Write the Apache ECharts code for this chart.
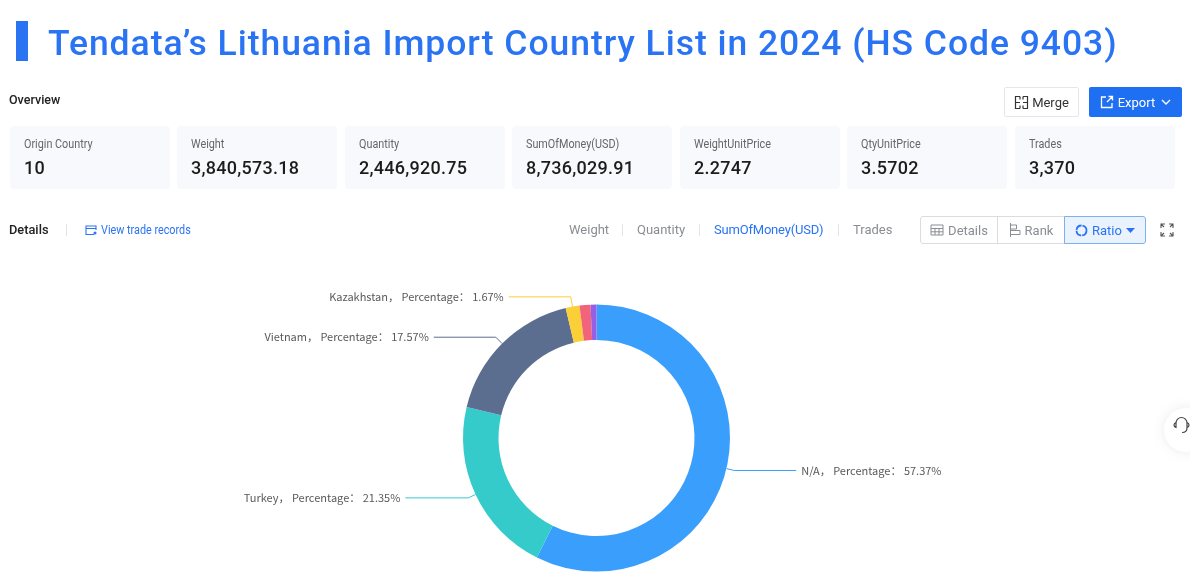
<!DOCTYPE html>
<html>
<head>
<meta charset="utf-8">
<title>Tendata's Lithuania Import Country List in 2024</title>
<script src="https://cdn.jsdelivr.net/npm/echarts@6/dist/echarts.min.js"></script>
<style>
  html, body { margin: 0; padding: 0; background: #fff; width: 1190px; height: 580px; overflow: hidden; }
  body { position: relative; font-family: Roboto, sans-serif; color: #222; }
  #chart { position: absolute; left: 0; top: 0; width: 1190px; height: 580px; }
  .abs { position: absolute; white-space: nowrap; }
  .bar { left: 16px; top: 21px; width: 12px; height: 40px; background: #2a74f4; }
  .title { left: 48px; top: 21px; font: 500 35.5px/44px Roboto, sans-serif; letter-spacing: .95px; color: #2a74f4; }
  .head { font-size: 12.5px; line-height: 16px; font-weight: 500; color: #222; }
  .card { top: 126px; height: 63px; background: #f8f9fc; border-radius: 4px; }
  .card .k { position: absolute; left: 14px; top: 10px; font-size: 12px; line-height: 16px; color: #666; transform: scaleX(.9); transform-origin: left center; }
  .card .v { position: absolute; left: 14px; top: 30px; font-size: 18px; line-height: 24px; font-weight: 500; letter-spacing: .25px; color: #1c1c1c; }
  .btn { box-sizing: border-box; display: flex; align-items: center; justify-content: center; font-size: 13px; border-radius: 2px; }
  .merge { left: 1004px; top: 87px; width: 75px; height: 30px; border: 1px solid #e4e6ea; color: #333; }
  .export { left: 1089px; top: 87px; width: 93px; height: 30px; background: #1f6ff2; color: #fff; }
  .tab { top: 222px; font-size: 13px; line-height: 16px; color: #8a8d93; }
  .tab.on { color: #2a74f4; letter-spacing: -.2px; }
  .sep { top: 224px; width: 1px; height: 12px; background: #e2e4e8; }
  .seg { box-sizing: border-box; top: 216px; height: 28px; border: 1px solid #d9dce1; display: flex; align-items: center; justify-content: center; gap: 4px; font-size: 13px; color: #8a8d93; background: #fff; }
  .seg.on { border-color: #7fb0ee; background: #eaf3fd; color: #2a74f4; border-radius: 0 3px 3px 0; }
  svg { display: block; }
</style>
</head>
<body>
<div id="chart"></div>
<div class="abs bar"></div>
<div class="abs title">Tendata’s Lithuania Import Country List in 2024 (HS Code 9403)</div>
<div class="abs head" style="left:9px;top:92px">Overview</div>
<div class="abs btn merge">
  <svg width="15" height="15" viewBox="0 0 15 15" fill="none" stroke="#333" stroke-width="1.2" style="margin-right:3px"><path d="M6 1.5H1.5v12H6M9 1.5h4.500v12H9M1.500 7.500H6M9 7.500h4.500M6 1.500v3M6 10.500v3M9 1.500v3M9 10.500v3"/></svg>Merge
</div>
<div class="abs btn export">
  <svg width="14" height="14" viewBox="0 0 14 14" fill="none" stroke="#fff" stroke-width="1.300" style="margin-right:4px"><path d="M6 2H1.500v10.500H12V8M7 7l5.500-5.500M8.500 1.500h4v4"/></svg>Export
  <svg width="10" height="6" viewBox="0 0 10 6" fill="none" stroke="#fff" stroke-width="1.300" style="margin-left:6px"><path d="M1 1l4 4 4-4"/></svg>
</div>
<div id="cards"></div>
<div class="abs head" style="left:9px;top:222px;font-size:12.8px">Details</div>
<div class="abs sep" style="left:66px"></div>
<svg class="abs" style="left:85px;top:224px" width="12" height="12" viewBox="0 0 12 12" fill="none" stroke="#2a74f4" stroke-width="1.100"><path d="M11 6V2H1v8.500h8M1 4.500h10"/><circle cx="10" cy="9" r="1" fill="#2a74f4"/></svg>
<div class="abs" style="left:101px;top:222px;font-size:12px;line-height:16px;color:#2a74f4;transform:scaleX(.9);transform-origin:left center">View trade records</div>
<div id="tabs"></div>
<div class="abs seg" style="left:920px;width:78px;border-radius:3px 0 0 3px">
  <svg width="14" height="12" viewBox="0 0 14 12" fill="none" stroke="#8a8d93" stroke-width="1"><path d="M1 1h12v10H1zM1 4.500h12M1 7.800h12M5 4.500V11M9 4.500V11"/></svg>Details
</div>
<div class="abs seg" style="left:997px;width:68px">
  <svg width="12" height="14" viewBox="0 0 12 14" fill="none" stroke="#8a8d93" stroke-width="1"><path d="M1.500 0v14M1.500 2h6v4h-6M1.500 7.500h9.500v4h-9.500"/></svg>Rank
</div>
<div class="abs seg on" style="left:1064px;width:82px">
  <svg width="13" height="13" viewBox="0 0 13 13" fill="none" stroke="#2a74f4" stroke-width="1.800"><circle cx="6.500" cy="6.500" r="5" stroke-dasharray="7 1"/></svg>Ratio
  <svg width="9" height="5" viewBox="0 0 9 5" fill="#2a74f4"><path d="M0 0h9L4.500 5z"/></svg>
</div>
<svg class="abs" style="left:1160px;top:223px" width="14" height="14" viewBox="0 0 14 14" fill="none" stroke="#555" stroke-width="1.100"><path d="M1 5V1h4M9 1h4v4M13 9v4H9M5 13H1V9M1 1l3 3M13 1l-3 3M13 13l-3-3M1 13l3-3"/></svg>
<div class="abs" style="left:1164px;top:408px;width:44px;height:44px;border-radius:22px;background:#fff;box-shadow:0 0 12px rgba(120,130,160,.16)"></div>
<svg class="abs" style="left:1173px;top:416px" width="17" height="20" viewBox="0 0 17 20" fill="none" stroke="#444" stroke-width="1.200"><path d="M3 9V7a5.500 5.500 0 0 1 11 0v2M3 6.500C1.500 7 1 8 1 9s.5 2 2 2.500zM14 6.500c1.500.5 2 1.500 2 2.500s-.5 2-2 2.500zM14 12c0 3-2 4.500-5 4.500"/></svg>

<script>
// Summary figures
const cardLabels = ['Origin Country', 'Weight', 'Quantity', 'SumOfMoney(USD)', 'WeightUnitPrice', 'QtyUnitPrice', 'Trades'];
const cardValues = ['10', '3,840,573.18', '2,446,920.75', '8,736,029.91', '2.2747', '3.5702', '3,370'];
const cardLefts = [10, 177, 345, 512, 680, 847, 1015];

// Metric switcher
const tabNames = ['Weight', 'Quantity', 'SumOfMoney(USD)', 'Trades'];
const tabLefts = [569, 637, 714, 853];
const sepLefts = [622, 699, 838];

// Import share by origin country, in percent
const countries = ['N/A', 'Turkey', 'Vietnam', 'Kazakhstan', 'Other A', 'Other B'];
const shares = [57.37, 21.35, 17.57, 1.67, 1.33, 0.71];
const sliceColors = ['#3a9efd', '#36cbcb', '#5b6e90', '#fbcf37', '#f2647c', '#975fe4'];
const labelled = [true, true, true, true, false, false];
const leaderFirst = [8, 8, 9, 10, 0, 0];
const leaderSecond = [62, 63, 62, 62, 0, 0];

document.getElementById('cards').innerHTML = cardLabels.map((k, i) =>
  `<div class="abs card" style="left:${cardLefts[i]}px;width:160px"><div class="k">${k}</div><div class="v">${cardValues[i]}</div></div>`
).join('');
document.getElementById('tabs').innerHTML =
  tabNames.map((t, i) => `<div class="abs tab${i === 2 ? ' on' : ''}" style="left:${tabLefts[i]}px">${t}</div>`).join('') +
  sepLefts.map(x => `<div class="abs sep" style="left:${x}px"></div>`).join('');

const chart = echarts.init(document.getElementById('chart'), null, { renderer: 'canvas' });
chart.setOption({
  animation: false,
  series: [{
    type: 'pie',
    center: [596.5, 438],
    radius: [98, 133.5],
    startAngle: 90,
    clockwise: true,
    avoidLabelOverlap: false,
    label: {
      fontFamily: '"Noto Sans CJK SC", sans-serif',
      fontSize: 11,
      color: '#595959',
      distanceToLabelLine: 5,
      formatter: p => `${p.name}， Percentage： ${p.value.toFixed(2)}%`
    },
    data: countries.map((name, i) => ({
      name,
      value: shares[i],
      itemStyle: { color: sliceColors[i] },
      label: { show: labelled[i] },
      labelLine: { show: labelled[i], length: leaderFirst[i], length2: leaderSecond[i], lineStyle: { width: 1 } }
    }))
  }]
});
</script>
</body>
</html>
